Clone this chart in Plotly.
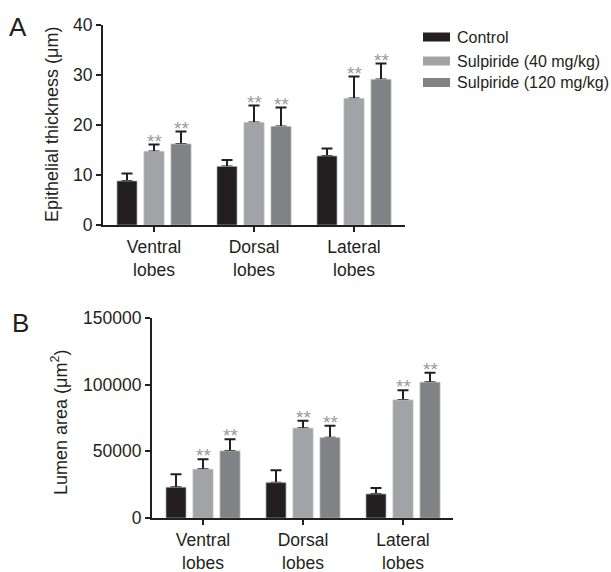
import plotly.graph_objects as go

categories = ["Ventral<br>lobes", "Dorsal<br>lobes", "Lateral<br>lobes"]
series_names = ["Control", "Sulpiride (40 mg/kg)", "Sulpiride (120 mg/kg)"]
colors = ["#231f20", "#a2a3a6", "#818285"]

# Panel A: epithelial thickness (um)
thick_control = [8.8, 11.7, 13.8]
thick_40 = [14.7, 20.5, 25.3]
thick_120 = [16.2, 19.7, 29.1]
thick_err_control = [1.5, 1.3, 1.5]
thick_err_40 = [1.4, 3.4, 4.4]
thick_err_120 = [2.5, 3.8, 3.2]

# Panel B: lumen area (um^2)
area_control = [23000, 26500, 18000]
area_40 = [36500, 67250, 88500]
area_120 = [50250, 60250, 101750]
area_err_control = [9800, 9300, 4500]
area_err_40 = [7500, 5750, 7250]
area_err_120 = [8750, 9000, 7250]

sig_series = [1, 2]

FONT = "Liberation Sans, Arial, Helvetica, sans-serif"
TXT = "#231f20"
offsets = [-0.37, -0.10, 0.17]
bar_w = 0.20
xpos = [0, 1, 2]

fig = go.Figure()

panels = [
    ("x", "y", [thick_control, thick_40, thick_120],
     [thick_err_control, thick_err_40, thick_err_120]),
    ("x2", "y2", [area_control, area_40, area_120],
     [area_err_control, area_err_40, area_err_120]),
]

for xa, ya, vals, errs in panels:
    for i in range(3):
        fig.add_trace(go.Bar(
            x=xpos, y=vals[i], xaxis=xa, yaxis=ya, name=series_names[i],
            width=bar_w, offset=offsets[i],
            marker=dict(color=colors[i], line=dict(color="#c8c8c8", width=0.6)),
            error_y=dict(type="data", array=errs[i], arrayminus=[0, 0, 0],
                         symmetric=False, color=TXT, thickness=2, width=5.5),
            showlegend=False, hoverinfo="skip"))
    for i in range(3):
        fig.add_trace(go.Bar(
            x=xpos, y=vals[i], xaxis=xa, yaxis=ya, name=series_names[i],
            width=bar_w, offset=offsets[i],
            marker=dict(color=colors[i], line=dict(color="#c8c8c8", width=0.6)),
            showlegend=False, hoverinfo="skip"))
    for i in sig_series:
        for j in range(3):
            fig.add_annotation(
                x=xpos[j] + offsets[i] + bar_w / 2, y=vals[i][j] + errs[i][j],
                xref=xa, yref=ya, text="**", showarrow=False,
                yanchor="bottom", xanchor="center", yshift=-9,
                font=dict(family=FONT, size=19, color="#9a9a9a"))

axis_common = dict(showline=True, linewidth=2, linecolor=TXT, ticks="outside",
                   ticklen=5, tickwidth=2, tickcolor=TXT, showgrid=False,
                   zeroline=False, automargin=False,
                   tickfont=dict(family=FONT, size=17.5, color=TXT))

fig.update_layout(
    width=611, height=572, margin=dict(l=0, r=0, t=0, b=0, pad=0, autoexpand=False),
    paper_bgcolor="white", plot_bgcolor="white", barmode="overlay",
    showlegend=False,
    xaxis=dict(domain=[103 / 611, 405 / 611], range=[-0.51, 2.51],
               tickvals=xpos, ticktext=categories, anchor="y", **axis_common),
    yaxis=dict(domain=[1 - 225 / 572, 1 - 25 / 572], range=[0, 40],
               tickvals=[0, 10, 20, 30, 40], anchor="x", **axis_common),
    xaxis2=dict(domain=[152 / 611, 453 / 611], range=[-0.51, 2.5],
                tickvals=xpos, ticktext=categories, anchor="y2", **axis_common),
    yaxis2=dict(domain=[1 - 518 / 572, 1 - 318 / 572], range=[0, 150000],
                tickvals=[0, 50000, 100000, 150000],
                ticktext=["0", "50000", "100000", "150000"], anchor="x2",
                **axis_common),
)

fig.add_annotation(x=52 / 611, y=1 - 125 / 572, xref="paper", yref="paper",
                   text="Epithelial thickness (μm)", textangle=-90, showarrow=False,
                   xanchor="center", yanchor="middle",
                   font=dict(family=FONT, size=18, color=TXT))
fig.add_annotation(x=59 / 611, y=1 - 423 / 572, xref="paper", yref="paper",
                   text="Lumen area (μm<sup>2</sup>)", textangle=-90, showarrow=False,
                   xanchor="center", yanchor="middle",
                   font=dict(family=FONT, size=18, color=TXT))

fig.add_annotation(x=18 / 611, y=1 - 27 / 572, xref="paper", yref="paper", text="A",
                   showarrow=False, xanchor="center", yanchor="middle",
                   font=dict(family=FONT, size=26, color=TXT))
fig.add_annotation(x=20 / 611, y=1 - 323 / 572, xref="paper", yref="paper", text="B",
                   showarrow=False, xanchor="center", yanchor="middle",
                   font=dict(family=FONT, size=26, color=TXT))

legend_y = [37, 61, 82.5]
for i in range(3):
    yc = legend_y[i]
    fig.add_shape(type="rect", xref="paper", yref="paper",
                  x0=423 / 611, x1=450 / 611, y0=1 - (yc + 4.5) / 572,
                  y1=1 - (yc - 4.5) / 572, fillcolor=colors[i],
                  line=dict(color=colors[i], width=0))
    fig.add_annotation(x=455 / 611, y=1 - yc / 572, xref="paper", yref="paper",
                       text=series_names[i], showarrow=False, xanchor="left",
                       yanchor="middle", font=dict(family=FONT, size=16, color=TXT))

post = "document.body.style.margin='0px';document.body.style.overflow='hidden';"
fig.write_html("out.html", post_script=post, config={"displayModeBar": False})
